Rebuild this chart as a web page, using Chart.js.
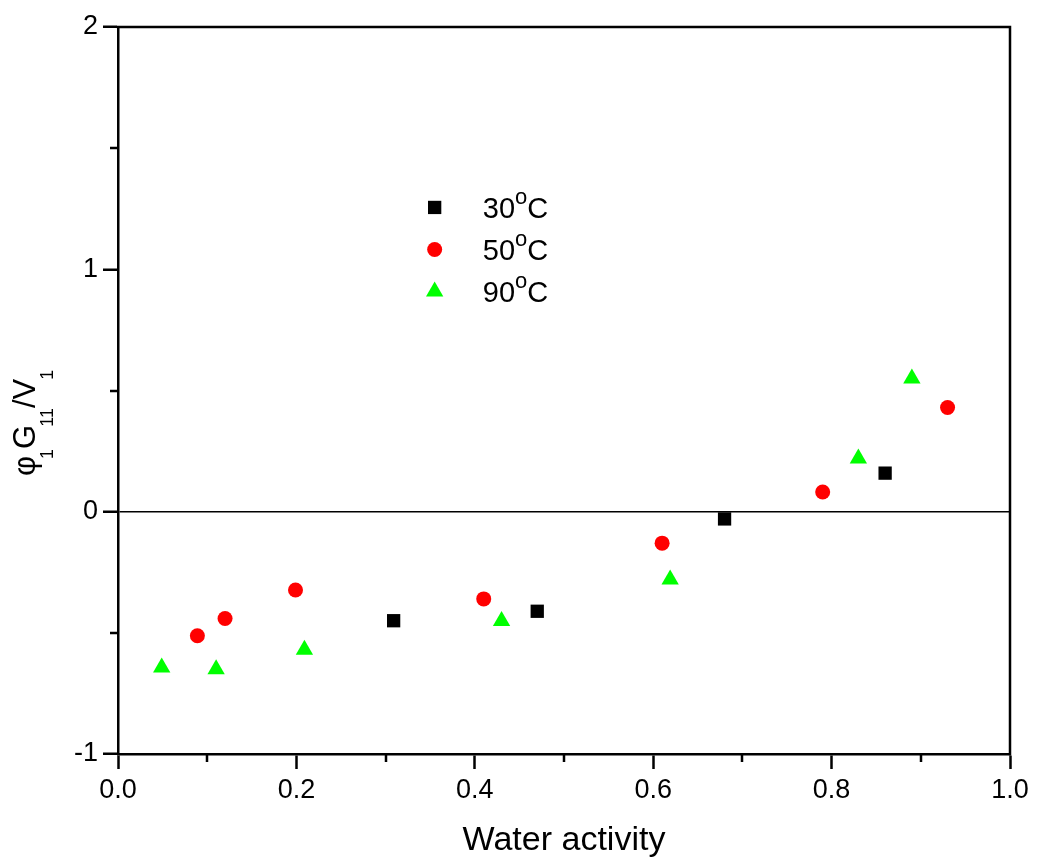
<!DOCTYPE html>
<html><head><meta charset="utf-8">
<script src="https://cdn.jsdelivr.net/npm/chart.js@4/dist/chart.umd.min.js"></script>
<style>html,body{margin:0;padding:0;background:#fff;}#wrap{width:1037px;height:861px;}</style>
</head><body><div id="wrap"><canvas id="c" width="1037" height="861"></canvas></div>
<script>
// ---- data ----
const x30 = [0.309, 0.470, 0.680, 0.860];
const y30 = [-0.450, -0.411, -0.030, 0.159];
const x50 = [0.089, 0.120, 0.199, 0.410, 0.610, 0.790, 0.930];
const y50 = [-0.512, -0.441, -0.323, -0.360, -0.130, 0.081, 0.430];
const x90 = [0.049, 0.110, 0.209, 0.430, 0.619, 0.830, 0.890];
const y90 = [-0.643, -0.650, -0.570, -0.451, -0.280, 0.219, 0.550];
const seriesTemps = ['30', '50', '90'];
const xMinorTicks = [0.1, 0.3, 0.5, 0.7, 0.9];
const yMinorTicks = [-0.5, 0.5, 1.5];
const xTitle = 'Water activity';
const yTitleParts = [['φ', 0], ['1', 1], ['G', 0], ['11', 1], ['/V', 0], ['1', 1]];

const FONT = '"Liberation Sans", Arial, Helvetica, sans-serif';
const pts = (xs, ys) => xs.map((v, i) => ({x: v, y: ys[i]}));

const styles = [
  {color: '#000000', pointStyle: 'rect', radius: 9.4},
  {color: '#ff0000', pointStyle: 'circle', radius: 7.5},
  {color: '#00ff00', pointStyle: 'triangle', radius: 10}
];
const dataSets = [pts(x30, y30), pts(x50, y50), pts(x90, y90)];

function drawMarker(ctx, st, x, y) {
  ctx.save();
  ctx.fillStyle = st.color;
  ctx.beginPath();
  const r = st.radius;
  if (st.pointStyle === 'rect') {
    const s = r * Math.SQRT1_2;
    ctx.rect(x - s, y - s, 2 * s, 2 * s);
  } else if (st.pointStyle === 'circle') {
    ctx.arc(x, y, r, 0, Math.PI * 2);
  } else {
    let a = 0;
    ctx.moveTo(x + Math.sin(a) * r, y - Math.cos(a) * r);
    a += 2 * Math.PI / 3;
    ctx.lineTo(x + Math.sin(a) * r, y - Math.cos(a) * r);
    a += 2 * Math.PI / 3;
    ctx.lineTo(x + Math.sin(a) * r, y - Math.cos(a) * r);
    ctx.closePath();
  }
  ctx.fill();
  ctx.restore();
}

const custom = {
  id: 'custom',
  afterDraw(chart) {
    const {ctx, chartArea: a, scales: {x, y}} = chart;
    ctx.save();
    ctx.strokeStyle = '#000';
    ctx.lineWidth = 2.5;
    ctx.beginPath();
    ctx.moveTo(a.left - 1.25, a.top);
    ctx.lineTo(a.right, a.top);
    ctx.lineTo(a.right, a.bottom + 1.25);
    ctx.stroke();
    // minor ticks
    ctx.beginPath();
    xMinorTicks.forEach(v => { const p = Math.round(x.getPixelForValue(v)); ctx.moveTo(p, a.bottom); ctx.lineTo(p, a.bottom + 8); });
    yMinorTicks.forEach(v => { const p = Math.round(y.getPixelForValue(v)); ctx.moveTo(a.left, p); ctx.lineTo(a.left - 8, p); });
    ctx.stroke();

    // legend
    const lx = x.getPixelForValue(0.355), tx = x.getPixelForValue(0.409);
    const baseY = y.getPixelForValue(1.21);
    const rowH = 42;
    seriesTemps.forEach((t, i) => {
      const by = baseY + i * rowH;
      drawMarker(ctx, styles[i], lx, by - 11);
      ctx.fillStyle = '#000';
      ctx.textBaseline = 'alphabetic';
      ctx.textAlign = 'left';
      ctx.font = '29px ' + FONT;
      ctx.fillText(t, tx, by);
      let cx = tx + ctx.measureText(t).width;
      ctx.font = '22px ' + FONT;
      ctx.fillText('o', cx, by - 14);
      cx += ctx.measureText('o').width;
      ctx.font = '29px ' + FONT;
      ctx.fillText('C', cx, by);
    });

    // y title (rotated, reading upward)
    ctx.translate(35, 476);
    ctx.rotate(-Math.PI / 2);
    ctx.fillStyle = '#000';
    ctx.textBaseline = 'alphabetic';
    ctx.textAlign = 'left';
    const gaps = [0, -3, 0, -2, 0, -1];
    let px = 0;
    yTitleParts.forEach(([s, sub], i) => {
      px += gaps[i];
      ctx.font = (sub ? '18px ' : '31px ') + FONT;
      ctx.fillText(s, px, sub ? 18 : 0);
      px += ctx.measureText(s).width;
    });
    ctx.restore();
  }
};

new Chart(document.getElementById('c'), {
  type: 'scatter',
  data: {
    datasets: dataSets.map((d, i) => ({
      label: seriesTemps[i] + '°C',
      data: d,
      pointStyle: styles[i].pointStyle,
      pointRadius: styles[i].radius,
      pointBackgroundColor: styles[i].color,
      pointBorderWidth: 0,
      showLine: false
    }))
  },
  options: {
    responsive: false,
    animation: false,
    events: [],
    layout: {padding: {top: 27, right: 27, left: 0, bottom: 0}},
    plugins: {legend: {display: false}, tooltip: {enabled: false}},
    scales: {
      x: {
        type: 'linear', min: 0, max: 1,
        afterFit: s => { s.height = 107; },
        ticks: {stepSize: 0.2, callback: v => Number(v).toFixed(1), color: '#000', font: {family: FONT, size: 27}, padding: 5, maxRotation: 0},
        grid: {drawOnChartArea: false, tickLength: 15, tickWidth: 2.5, tickColor: '#000'},
        border: {display: true, color: '#000', width: 2.5},
        title: {display: true, text: xTitle, color: '#000', font: {family: FONT, size: 34}, padding: 0}
      },
      y: {
        type: 'linear', min: -1, max: 2,
        afterFit: s => { s.width = 118; },
        ticks: {stepSize: 1, callback: v => String(v), color: '#000', font: {family: FONT, size: 27}, padding: 5},
        grid: {
          drawOnChartArea: true,
          color: c => (c.tick && c.tick.value === 0) ? '#000' : 'rgba(0,0,0,0)',
          lineWidth: 1.5,
          tickLength: 15, tickWidth: 2.5, tickColor: '#000'
        },
        border: {display: true, color: '#000', width: 2.5}
      }
    }
  },
  plugins: [custom]
});
</script></body></html>
